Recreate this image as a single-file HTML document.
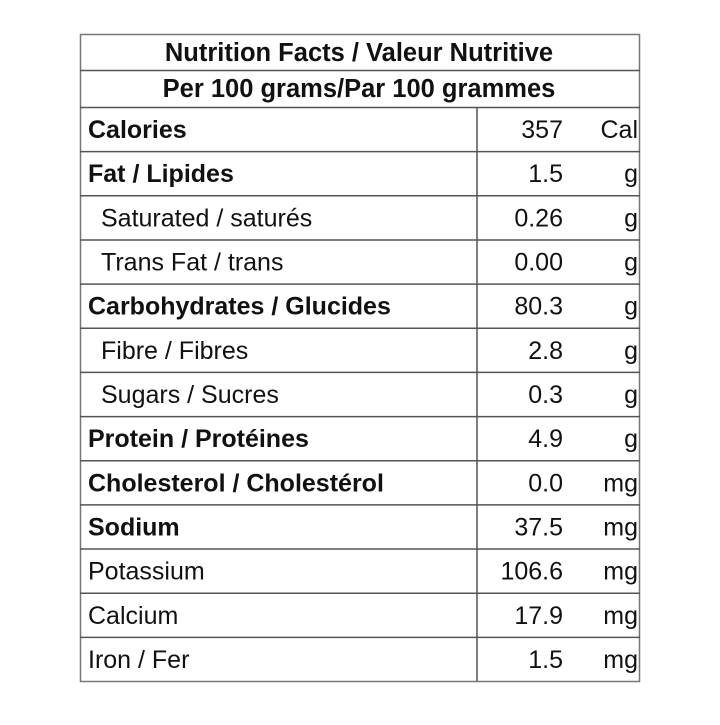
<!DOCTYPE html><html><head><style>body{margin:0;background:#fff}</style></head><body>
<svg width="720" height="720" xmlns="http://www.w3.org/2000/svg" font-family="Liberation Sans, Arial, sans-serif" font-size="25" fill="#111">
<rect x="80.5" y="34.5" width="559" height="647" fill="none" stroke="#777" stroke-width="1.5"/>
<g stroke="#555" stroke-width="1.5">
<line x1="80" y1="70.5" x2="640" y2="70.5"/>
<line x1="80" y1="107.5" x2="640" y2="107.5"/>
<line x1="477" y1="107" x2="477" y2="681"/>
</g>
<g stroke="#555" stroke-width="1.5" id="rl"></g>
<text x="359" y="61" text-anchor="middle" font-weight="bold" font-size="25.5">Nutrition Facts / Valeur Nutritive</text>
<text x="359" y="97" text-anchor="middle" font-weight="bold" font-size="25.5">Per 100 grams/Par 100 grammes</text>
<g id="rows"></g>
</svg>
<script>
var d=[["Calories","357","Cal",1,0],["Fat / Lipides","1.5","g",1,0],["Saturated / saturés","0.26","g",0,1],["Trans Fat / trans","0.00","g",0,1],["Carbohydrates / Glucides","80.3","g",1,0],["Fibre / Fibres","2.8","g",0,1],["Sugars / Sucres","0.3","g",0,1],["Protein / Protéines","4.9","g",1,0],["Cholesterol / Cholestérol","0.0","mg",1,0],["Sodium","37.5","mg",1,0],["Potassium","106.6","mg",0,0],["Calcium","17.9","mg",0,0],["Iron / Fer","1.5","mg",0,0]];
var ns="http://www.w3.org/2000/svg",g=document.getElementById("rows"),rl=document.getElementById("rl");
function t(x,y,s,a,b){var e=document.createElementNS(ns,"text");e.setAttribute("x",x);e.setAttribute("y",y);e.setAttribute("text-anchor",a);if(b)e.setAttribute("font-weight","bold");e.textContent=s;g.appendChild(e);}
var h=574/13;
d.forEach(function(r,i){var top=107+i*h,y=top+h/2+9;
t(r[4]?101:88,y,r[0],"start",r[3]);t(563,y,r[1],"end",0);t(638,y,r[2],"end",0);
if(i>0){var l=document.createElementNS(ns,"line");l.setAttribute("x1",80);l.setAttribute("x2",640);l.setAttribute("y1",top+.5);l.setAttribute("y2",top+.5);rl.appendChild(l);}});
</script>
</body></html>
